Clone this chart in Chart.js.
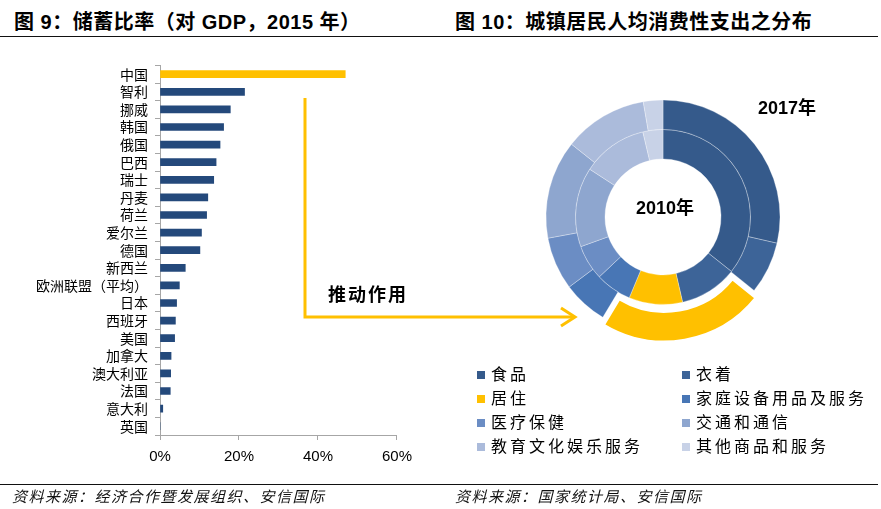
<!DOCTYPE html>
<html lang="zh">
<head>
<meta charset="utf-8">
<script src="https://cdn.jsdelivr.net/npm/chart.js@4.4.1/dist/chart.umd.min.js"></script>
<style>
  body { margin: 0; width: 881px; height: 509px; background: #fff; position: relative; overflow: hidden;
         font-family: "Noto Sans CJK SC", sans-serif; }
  .title { position: absolute; top: 10px; font: bold 20px "Liberation Sans", "Noto Sans CJK SC", sans-serif;
           letter-spacing: 0.5px; line-height: 24px; color: #000; white-space: nowrap; }
  .rule { position: absolute; left: 0; width: 878px; border-top: 1.5px solid #111; }
  .source { position: absolute; top: 485px; font: italic 15px "Noto Sans CJK SC", sans-serif; line-height: 22px;
            letter-spacing: 1.5px; color: #111; white-space: nowrap; }
  #savingBox { position: absolute; left: 0; top: 50px; width: 420px; height: 420px; }
  #spendBox { position: absolute; left: 500px; top: 70px; width: 326px; height: 294px; }
  #legend { position: absolute; left: 477px; top: 361px; display: grid; grid-template-columns: 205px 200px; }
  #legend .item { height: 24px; line-height: 24px; font-size: 16px; letter-spacing: 3px; color: #000; white-space: nowrap; }
  #legend .box { display: inline-block; width: 8px; height: 8px; margin-right: 6px; vertical-align: 1px; }
  #arrow { position: absolute; left: 0; top: 0; }
  .push { position: absolute; left: 328px; top: 280px; font: bold 18px "Noto Sans CJK SC", sans-serif;
          letter-spacing: 2px; line-height: 26px; color: #000; }
</style>
</head>
<body>
<div class="title" style="left:14px">图 9：储蓄比率（对 GDP，2015 年）</div>
<div class="title" style="left:455px">图 10：城镇居民人均消费性支出之分布</div>
<div class="rule" style="top:36px"></div>

<div id="savingBox"><canvas id="savingChart" width="420" height="420"></canvas></div>
<div id="spendBox"><canvas id="spendChart" width="326" height="294"></canvas></div>
<div id="legend"></div>

<svg id="arrow" width="881" height="509">
  <polyline points="305,98 305,317 574,317" fill="none" stroke="#FFC000" stroke-width="3"/>
  <polyline points="561,308 575,317 561,326" fill="none" stroke="#FFC000" stroke-width="3"/>
</svg>
<div class="push">推动作用</div>

<div class="rule" style="top:484px"></div>
<div class="source" style="left:12px">资料来源：经济合作暨发展组织、安信国际</div>
<div class="source" style="left:455px">资料来源：国家统计局、安信国际</div>

<script>
// 图 9：储蓄比率（对 GDP，2015 年）
var countries = ['中国', '智利', '挪威', '韩国', '俄国', '巴西', '瑞士', '丹麦', '荷兰', '爱尔兰', '德国',
                 '新西兰', '欧洲联盟（平均）', '日本', '西班牙', '美国', '加拿大', '澳大利亚', '法国', '意大利', '英国'];
var savingRates = [46.9, 21.4, 17.8, 16.1, 15.2, 14.2, 13.6, 12.1, 11.8, 10.5, 10.1,
                   6.4, 4.9, 4.2, 3.9, 3.7, 2.8, 2.7, 2.6, 0.7, 0];
var rateTicks = [0, 20, 40, 60];

// 图 10：城镇居民人均消费性支出之分布 (%)
var spendCategories = ['食品', '衣着', '居住', '家庭设备用品及服务', '医疗保健', '交通和通信', '教育文化娱乐服务', '其他商品和服务'];
var share2017 = [28.6, 7.2, 22.8, 6.2, 7.3, 13.6, 11.6, 2.7];
var share2010 = [35.7, 10.7, 9.9, 6.7, 6.5, 14.7, 12.1, 3.7];
var ringYears = ['2017年', '2010年'];

var barColor = '#24497B';
var highlightColor = '#FFC000';
var spendColors = ['#355A8B', '#3D6498', '#FFC000', '#4876B5', '#6B8DC4', '#8EA6CF', '#ABBBDB', '#C8D2E7'];

var axisGrey = '#A6A6A6';

new Chart(document.getElementById('savingChart'), {
    type: 'bar',
    data: {
        labels: countries,
        datasets: [{
            data: savingRates,
            backgroundColor: countries.map(function(c, i) { return i === 0 ? highlightColor : barColor; }),
            barThickness: 7
        }]
    },
    options: {
        indexAxis: 'y',
        responsive: false,
        animation: false,
        events: [],
        layout: { padding: { top: 14, right: 21 } },
        plugins: { legend: { display: false }, tooltip: { enabled: false } },
        scales: {
            x: {
                min: 0,
                max: 60,
                afterBuildTicks: function(scale) {
                    scale.ticks = rateTicks.map(function(v) { return { value: v }; });
                },
                afterFit: function(scale) { scale.height = 35; },
                grid: { drawOnChartArea: false, tickLength: 5, color: axisGrey },
                border: { color: axisGrey },
                ticks: {
                    callback: function(v) { return v + '%'; },
                    font: { family: 'Liberation Sans', size: 15 },
                    color: '#000',
                    padding: 8,
                    maxRotation: 0
                }
            },
            y: {
                afterFit: function(scale) { scale.width = 160; },
                grid: { drawOnChartArea: false, tickLength: 5, color: axisGrey, offset: true },
                border: { color: axisGrey },
                ticks: {
                    font: { family: 'Noto Sans CJK SC', size: 14 },
                    color: '#000',
                    padding: 7,
                    autoSkip: false
                }
            }
        }
    }
});

// year labels inside / beside the rings
var ringLabels = {
    id: 'ringLabels',
    afterDraw: function(chart) {
        var arc = chart.getDatasetMeta(1).data[0];
        var ctx = chart.ctx;
        ctx.save();
        ctx.fillStyle = '#000';
        ctx.textAlign = 'center';
        ctx.textBaseline = 'middle';
        ctx.font = 'bold 18px "Liberation Sans", "Noto Sans CJK SC"';
        ctx.fillText(ringYears[1], arc.x + 2, arc.y - 8);
        ctx.fillText(ringYears[0], arc.x + 124, arc.y - 108);
        ctx.restore();
    }
};

var ringBorder = 'rgba(255,255,255,0.3)';
var housingIdx = spendCategories.indexOf('居住');

new Chart(document.getElementById('spendChart'), {
    type: 'doughnut',
    data: {
        labels: spendCategories,
        datasets: [{
            label: ringYears[0],
            data: share2017,
            backgroundColor: spendColors,
            borderColor: share2017.map(function(v, i) { return i === housingIdx ? '#fff' : ringBorder; }),
            borderWidth: share2017.map(function(v, i) { return i === housingIdx ? 2 : 1; }),
            offset: share2017.map(function(v, i) { return i === housingIdx ? 30 : 0; })
        }, {
            label: ringYears[1],
            data: share2010,
            backgroundColor: spendColors,
            borderColor: ringBorder,
            borderWidth: 1
        }]
    },
    options: {
        responsive: false,
        animation: false,
        events: [],
        radius: 117,
        cutout: '49.6%',
        plugins: { legend: { display: false }, tooltip: { enabled: false } }
    },
    plugins: [ringLabels]
});

// two-column legend under the rings
var legend = document.getElementById('legend');
spendCategories.forEach(function(name, i) {
    var item = document.createElement('div');
    item.className = 'item';
    item.innerHTML = '<span class="box" style="background:' + spendColors[i] + '"></span>' + name;
    legend.appendChild(item);
});
</script>
</body>
</html>
